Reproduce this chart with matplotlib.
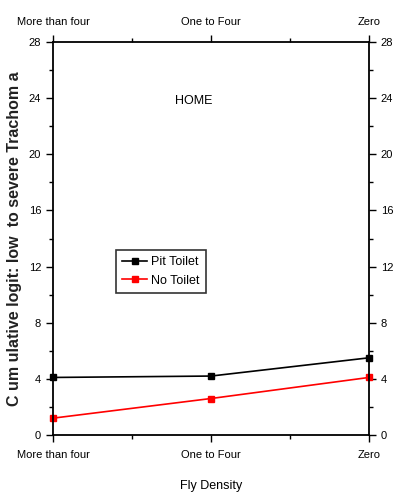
import numpy as np
import matplotlib.pyplot as plt
from matplotlib.ticker import MultipleLocator

plt.rcParams['font.family'] = ['Liberation Sans', 'DejaVu Sans']

categories = ['More than four', 'One to Four', 'Zero']
pit_toilet = [4.1, 4.2, 5.5]
no_toilet = [1.2, 2.6, 4.1]

x = np.arange(len(categories))

fig = plt.figure(figsize=(3.96, 4.98), dpi=100)
ax = fig.add_axes([53/396, 1 - 435/498, (369-53)/396, (435-42)/498])

ax.plot(x, pit_toilet, color='black', marker='s', markersize=5, lw=1.2, label='Pit Toilet', clip_on=False)
ax.plot(x, no_toilet, color='red', marker='s', markersize=5, lw=1.2, label='No Toilet', clip_on=False)

ax.set_xlim(0, 2)
ax.set_ylim(0, 28)
ax.set_xticks(x)
ax.set_xticklabels(categories, fontsize=8)
ax.xaxis.set_minor_locator(MultipleLocator(0.5))
ax.yaxis.set_major_locator(MultipleLocator(4))
ax.yaxis.set_minor_locator(MultipleLocator(2))
ax.tick_params(axis='both', which='major', direction='out', length=5, width=1, labelsize=8)
ax.tick_params(axis='both', which='minor', direction='out', length=3, width=1)
ax.tick_params(top=True, right=True, labeltop=True, labelright=True, which='both')
ax.xaxis.set_tick_params(which='major', pad=6)

for s in ax.spines.values():
    s.set_linewidth(1.3)

ax.set_xlabel('Fly Density', fontsize=9, labelpad=14)
ax.set_ylabel('C um ulative logit: low  to severe Trachom a', fontsize=11.5,
              fontweight='bold', color='#222222', labelpad=5)
ax.text(0.445, 0.85, 'HOME', transform=ax.transAxes, fontsize=9, ha='center', va='center')

leg = ax.legend(loc='upper left', bbox_to_anchor=((116-53)/316, (435-250)/393),
                fontsize=9, frameon=True, fancybox=False, edgecolor='black',
                handlelength=2.0, borderpad=0.5, labelspacing=0.5, handletextpad=0.3,
                borderaxespad=0)
leg.get_frame().set_linewidth(1.2)

fig.savefig('out.png', dpi=100)
